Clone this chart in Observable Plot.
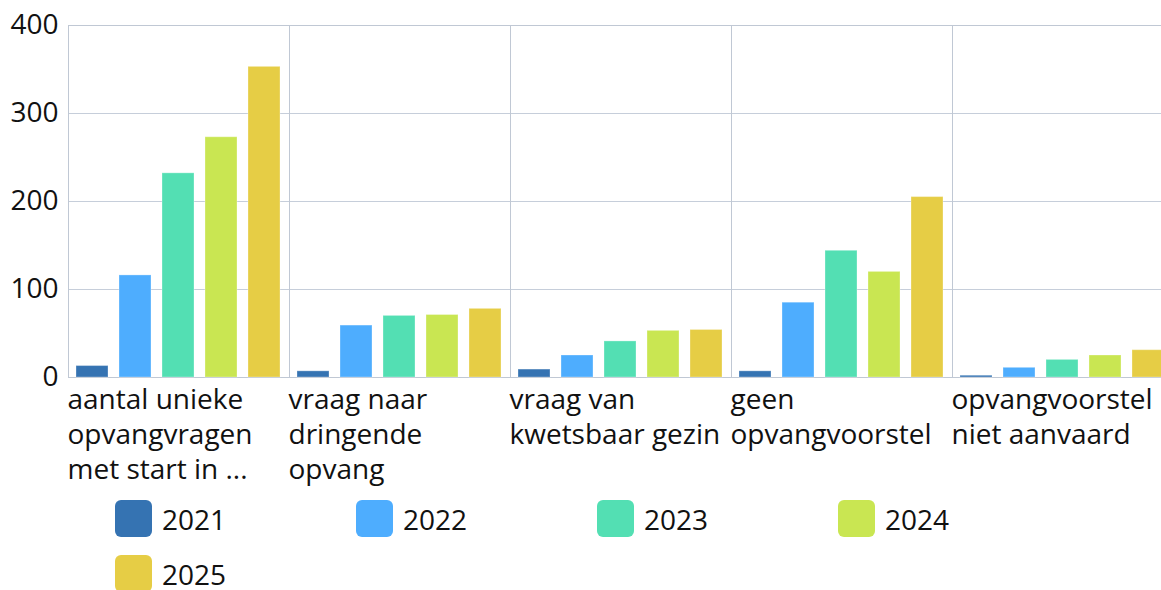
<!DOCTYPE html>
<html><head><meta charset="utf-8">
<script src="https://cdn.jsdelivr.net/npm/d3@7"></script>
<script src="https://cdn.jsdelivr.net/npm/@observablehq/plot@0.6"></script>
<style>
html,body{margin:0;padding:0;background:#fff;overflow:hidden;width:1161px;height:590px}
#chart svg{max-width:none !important;display:block}
#legend{display:flex;flex-wrap:wrap;padding-left:115px;row-gap:18px;padding-top:10px;width:1161px;box-sizing:border-box}
.item{width:241px;display:flex;align-items:center;height:37px}
.sw{width:37px;height:37px;border-radius:6px;margin-right:10px;flex:none}
.lab{font-family:"Open Sans",sans-serif;font-size:28px;color:#111}
</style></head>
<body><div id="chart"></div><div id="legend"></div>
<script>
const categories = ["aantal", "dringend", "kwetsbaar", "geen", "nietaanvaard"];
const categoryLabels = [
  "aantal unieke\nopvangvragen\nmet start in ...",
  "vraag naar\ndringende\nopvang",
  "vraag van\nkwetsbaar gezin",
  "geen\nopvangvoorstel",
  "opvangvoorstel\nniet aanvaard"
];
const years = ["2021", "2022", "2023", "2024", "2025"];
const colors = ["#3573b2", "#4eadfe", "#53dfb3", "#c9e652", "#e6cd45"];
const values2021 = [13, 7, 9, 7, 2];
const values2022 = [116, 59, 25, 85, 11];
const values2023 = [232, 70, 41, 144, 20];
const values2024 = [273, 71, 53, 120, 25];
const values2025 = [353, 78, 54, 205, 31];
const yTicks = [0, 100, 200, 300, 400];

const series = [values2021, values2022, values2023, values2024, values2025];
const data = [];
categories.forEach((c, i) => years.forEach((y, j) => data.push({category: c, year: y, value: series[j][i]})));
const labelRows = categories.map((c, i) => ({category: c, label: categoryLabels[i]}));

const chart = Plot.plot({
  width: 1173, height: 490,
  marginTop: 25, marginBottom: 113, marginLeft: 68, marginRight: 0,
  style: {fontFamily: "'Open Sans', sans-serif", fontSize: "28px", color: "#111", background: "transparent", overflow: "visible", maxWidth: "none"},
  fx: {domain: categories, padding: 0, axis: null},
  x: {domain: years, paddingInner: 0.25, paddingOuter: 0.14, axis: null},
  y: {domain: [0, 400], axis: null},
  color: {domain: years, range: colors},
  marks: [
    Plot.gridY(yTicks, {stroke: "#c6ceda", strokeOpacity: 1, strokeWidth: 1}),
    Plot.frame({stroke: "#c0c8d4", strokeWidth: 1}),
    Plot.barY(data, {fx: "category", x: "year", y: "value", fill: "year", stroke: "white", strokeOpacity: 0.3, strokeWidth: 1}),
    Plot.axisY(yTicks, {label: null, tickSize: 0, tickPadding: 10, fontSize: 28, fill: "#111"}),
    Plot.text(labelRows, {fx: "category", text: "label", frameAnchor: "bottom-left", textAnchor: "start", lineAnchor: "top", dy: 7, dx: -1, lineHeight: 1.25, fontSize: 28, fill: "#111"})
  ]
});
document.getElementById("chart").appendChild(chart);

const legend = document.getElementById("legend");
years.forEach((y, i) => {
  const item = document.createElement("div");
  item.className = "item";
  item.innerHTML = `<div class="sw" style="background:${colors[i]}"></div><span class="lab">${y}</span>`;
  legend.appendChild(item);
});
</script>
</body></html>
